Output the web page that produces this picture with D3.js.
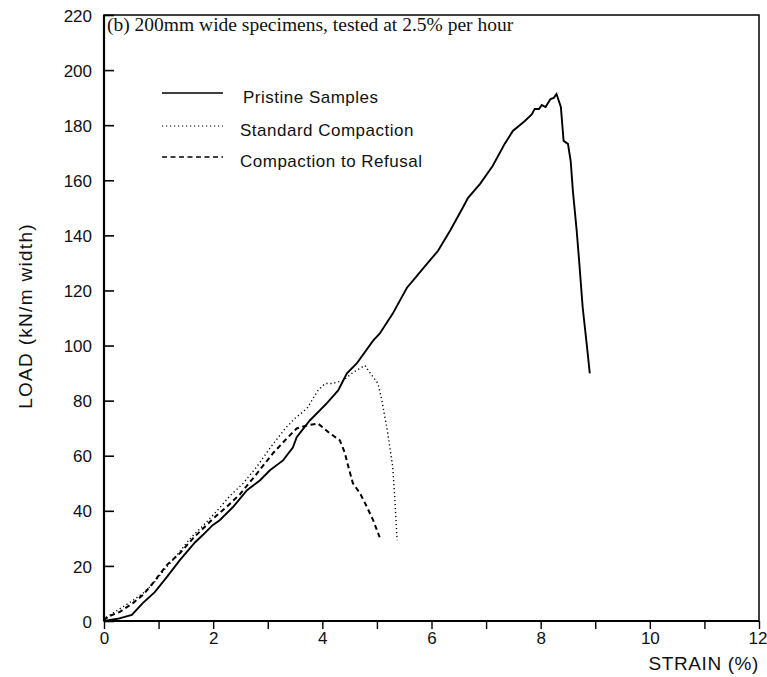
<!DOCTYPE html>
<html>
<head>
<meta charset="utf-8">
<script src="https://cdn.jsdelivr.net/npm/d3@7"></script>
<style>
  body { margin: 0; background: #fff; }
  svg { display: block; }
</style>
</head>
<body>
<svg id="chart"></svg>
<script>
// series (strain %, load kN/m width)
const pristineStrain = [0, 0.25, 0.51, 0.71, 0.93, 1.15, 1.39, 1.67, 1.81, 1.99, 2.12, 2.36, 2.62, 2.86, 3.04, 3.28, 3.46, 3.53, 3.77, 4.08, 4.29, 4.45, 4.63, 4.93, 5.05, 5.29, 5.55, 5.66, 5.92, 6.12, 6.34, 6.56, 6.67, 6.89, 7.12, 7.34, 7.49, 7.71, 7.84, 7.89, 7.97, 8.02, 8.09, 8.18, 8.24, 8.29, 8.37, 8.42, 8.50, 8.55, 8.59, 8.66, 8.70, 8.77, 8.85, 8.90];
const pristineLoad = [0, 0.8, 2.2, 6.5, 10.5, 15.9, 22.1, 28.6, 31.2, 34.8, 36.6, 41.3, 47.5, 51.1, 54.7, 58.3, 63.0, 66.7, 72.8, 79.0, 83.7, 89.9, 93.5, 101.8, 104.3, 111.6, 121.0, 123.6, 129.7, 134.4, 141.7, 149.6, 153.6, 158.7, 165.2, 173.2, 177.9, 181.5, 184.0, 185.9, 185.9, 187.3, 186.6, 189.5, 189.9, 191.3, 186.6, 174.3, 173.2, 167.0, 156.2, 141.7, 131.9, 113.8, 99.3, 89.9];

const standardStrain = [0, 0.11, 0.48, 0.71, 0.90, 1.08, 1.34, 1.58, 1.81, 2.07, 2.31, 2.55, 2.80, 3.05, 3.32, 3.50, 3.72, 3.92, 4.05, 4.18, 4.38, 4.56, 4.78, 4.87, 5.02, 5.09, 5.20, 5.29, 5.33, 5.37];
const standardLoad = [0, 2.2, 6.8, 10.0, 13.5, 18.0, 24.0, 30.0, 34.5, 40.0, 45.5, 50.0, 56.0, 63.0, 69.9, 73.6, 77.2, 83.7, 86.2, 86.2, 87.3, 90.2, 92.8, 90.2, 86.2, 80.1, 68.1, 55.8, 43.8, 29.3];

const refusalStrain = [0, 0.05, 0.29, 0.53, 0.71, 0.90, 1.15, 1.39, 1.63, 1.81, 1.99, 2.25, 2.49, 2.80, 3.10, 3.35, 3.53, 3.72, 3.92, 4.14, 4.32, 4.41, 4.47, 4.56, 4.69, 4.82, 4.93, 5.05];
const refusalLoad = [0, 1.4, 3.3, 6.5, 9.4, 13.8, 20.3, 24.6, 30.0, 33.5, 37.0, 41.5, 46.0, 53.5, 61.0, 66.3, 69.9, 71.0, 71.7, 68.1, 65.6, 61.2, 56.5, 50.0, 46.4, 41.3, 36.6, 30.4];

const seriesNames = ['Pristine Samples', 'Standard Compaction', 'Compaction to Refusal'];
const xTicks = [0, 1, 2, 3, 4, 5, 6, 7, 8, 9, 10, 11, 12];
const yTicks = [0, 20, 40, 60, 80, 100, 120, 140, 160, 180, 200, 220];

const width = 767;
const height = 677;
const plotLeft = 104, plotRight = 759, plotTop = 15, plotBottom = 621;

const svg = d3.select('#chart')
  .attr('width', width)
  .attr('height', height);

const x = d3.scaleLinear().domain([0, 12]).range([plotLeft, plotRight]);
const y = d3.scaleLinear().domain([0, 220]).range([plotBottom, plotTop]);

const sans = '"Liberation Sans", Arial, sans-serif';

// y axis, ticks pointing into the plot
const yAxis = svg.append('g')
  .attr('transform', `translate(${plotLeft},0)`)
  .call(d3.axisLeft(y).tickValues(yTicks).tickSize(-10).tickPadding(12));
yAxis.select('.domain').remove();
yAxis.selectAll('line').attr('stroke', '#000').attr('stroke-width', 1.6);
yAxis.selectAll('text')
  .style('font-family', sans).style('font-size', '17px')
  .attr('fill', '#111').attr('dy', '0.36em');

// x axis, ticks pointing out, labels on even numbers
const xAxis = svg.append('g')
  .attr('transform', `translate(0,${plotBottom})`)
  .call(d3.axisBottom(x).tickValues(xTicks).tickSize(8).tickPadding(3)
    .tickFormat(d => d % 2 === 0 ? d : ''));
xAxis.select('.domain').remove();
xAxis.selectAll('line').attr('stroke', '#000').attr('stroke-width', 1.4);
xAxis.selectAll('text')
  .style('font-family', sans).style('font-size', '17px')
  .attr('fill', '#111');
// last label sits at the page edge, keep it inside
xAxis.selectAll('.tick').filter(d => d === 12).select('text')
  .attr('text-anchor', 'end').attr('x', 8);

// frame
svg.append('rect')
  .attr('x', plotLeft).attr('y', plotTop)
  .attr('width', plotRight - plotLeft).attr('height', plotBottom - plotTop)
  .attr('fill', 'none').attr('stroke', '#000').attr('stroke-width', 1.5);
svg.append('line')
  .attr('x1', plotLeft).attr('x2', plotLeft).attr('y1', plotTop).attr('y2', plotBottom)
  .attr('stroke', '#000').attr('stroke-width', 2.2);
svg.append('line')
  .attr('x1', plotLeft).attr('x2', plotRight).attr('y1', plotBottom).attr('y2', plotBottom)
  .attr('stroke', '#000').attr('stroke-width', 2.2);

// curves
const line = d3.line()
  .x(d => x(d[0]))
  .y(d => y(d[1]));

const series = [
  { name: seriesNames[0], pts: d3.zip(pristineStrain, pristineLoad), dash: null, w: 1.9 },
  { name: seriesNames[1], pts: d3.zip(standardStrain, standardLoad), dash: '1.2,2.8', w: 1.4 },
  { name: seriesNames[2], pts: d3.zip(refusalStrain, refusalLoad), dash: '5,3.5', w: 2 }
];

svg.selectAll('path.curve')
  .data(series)
  .enter()
  .append('path')
  .attr('class', 'curve')
  .attr('d', d => line(d.pts))
  .attr('fill', 'none')
  .attr('stroke', '#000')
  .attr('stroke-width', d => d.w)
  .attr('stroke-dasharray', d => d.dash);

// legend
const legendRows = [93, 126, 157];
const legend = svg.selectAll('g.legend')
  .data(series)
  .enter()
  .append('g')
  .attr('class', 'legend')
  .attr('transform', (d, i) => `translate(0,${legendRows[i]})`);

legend.append('line')
  .attr('x1', 162).attr('x2', 223)
  .attr('y1', 0).attr('y2', 0)
  .attr('stroke', '#000')
  .attr('stroke-width', d => d.dash ? d.w * 0.85 : 1.6)
  .attr('stroke-dasharray', d => d.dash);

legend.append('text')
  .attr('x', (d, i) => i === 0 ? 243 : 240)
  .attr('y', 10)
  .text(d => d.name)
  .style('font-family', sans)
  .style('font-size', '17px')
  .style('letter-spacing', '0.5px')
  .attr('fill', '#111');

// title inside the frame
svg.append('text')
  .attr('x', 107).attr('y', 31)
  .text('(b) 200mm wide specimens, tested at 2.5% per hour')
  .style('font-family', '"Liberation Serif", "Times New Roman", serif')
  .style('font-size', '19.5px')
  .attr('fill', '#111');

// axis titles
svg.append('text')
  .attr('x', 759).attr('y', 670)
  .attr('text-anchor', 'end')
  .text('STRAIN (%)')
  .style('font-family', sans)
  .style('font-size', '19px')
  .style('letter-spacing', '0.6px')
  .attr('fill', '#111');

svg.append('text')
  .attr('transform', 'translate(32,316) rotate(-90)')
  .attr('text-anchor', 'middle')
  .text('LOAD (kN/m width)')
  .style('font-family', sans)
  .style('font-size', '19px')
  .style('letter-spacing', '1.3px')
  .attr('fill', '#111');
</script>
</body>
</html>
